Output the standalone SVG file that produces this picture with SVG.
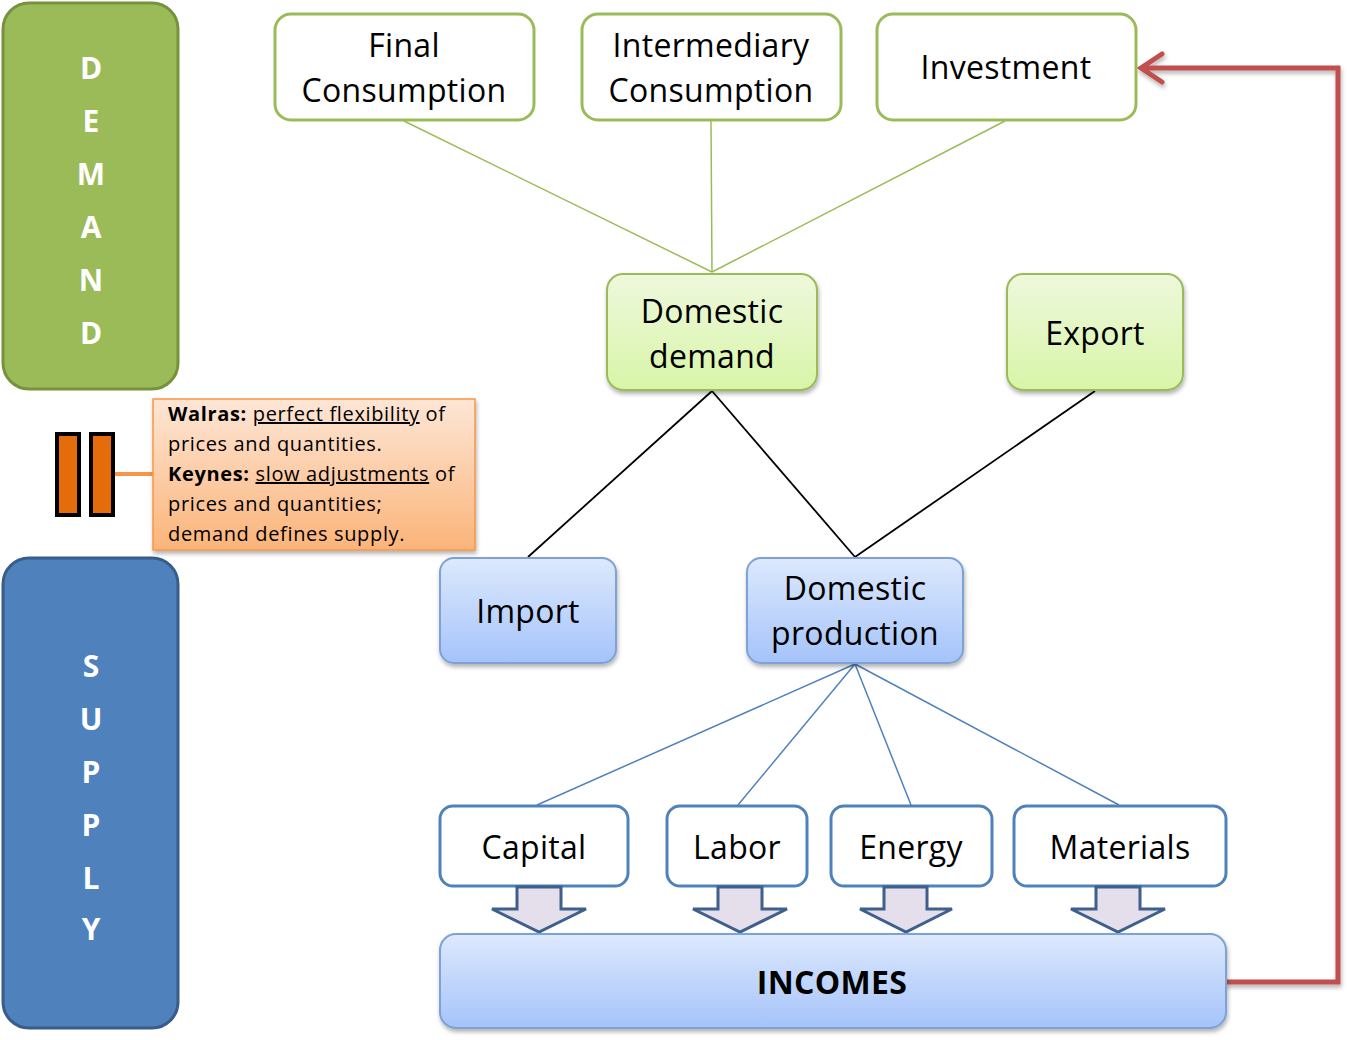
<svg xmlns="http://www.w3.org/2000/svg" width="1348" height="1040" viewBox="0 0 1348 1040">
<defs>
<linearGradient id="gGreen" x1="0" y1="0" x2="0" y2="1"><stop offset="0" stop-color="#eef8dc"/><stop offset="1" stop-color="#d8f5a8"/></linearGradient>
<linearGradient id="gBlue" x1="0" y1="0" x2="0" y2="1"><stop offset="0" stop-color="#dde9fd"/><stop offset="1" stop-color="#a5c3fa"/></linearGradient>
<linearGradient id="gOrange" x1="0" y1="0" x2="0" y2="1"><stop offset="0" stop-color="#fde6d6"/><stop offset="1" stop-color="#fbb479"/></linearGradient>
<filter id="sh" x="-10%" y="-10%" width="130%" height="130%"><feDropShadow dx="1" dy="3" stdDeviation="2" flood-color="#000" flood-opacity="0.3"/></filter>
</defs>
<style>
text{font-family:"Open Sans","Liberation Sans",sans-serif;fill:#000}
.lbl{font-size:32px;text-anchor:middle;letter-spacing:0.3px}
.side{font-size:30px;font-weight:bold;fill:#fff;text-anchor:middle}
.wbox{fill:#fff;stroke:#9bbb59;stroke-width:3}
.bbox{fill:#fff;stroke:#4f81bd;stroke-width:3}
.gn{fill:url(#gGreen);stroke:#9bbb59;stroke-width:2;filter:url(#sh)}
.bn{fill:url(#gBlue);stroke:#7ba2d6;stroke-width:2;filter:url(#sh)}
.barrow{fill:#e5dfec;stroke:#3f5f8c;stroke-width:3;stroke-linejoin:miter}
.note{font-size:20px;letter-spacing:0.65px}
</style>
<g id="demand">
<rect x="3" y="3" width="175" height="386" rx="26" fill="#9bbb59" stroke="#76923c" stroke-width="3"/>
<text class="side" x="91" y="79">D</text><text class="side" x="91" y="132">E</text><text class="side" x="91" y="185">M</text><text class="side" x="91" y="238">A</text><text class="side" x="91" y="291">N</text><text class="side" x="91" y="344">D</text>
</g>
<g id="supply">
<rect x="3" y="558" width="175" height="470" rx="26" fill="#4f81bd" stroke="#385d8a" stroke-width="3"/>
<text class="side" x="91" y="677">S</text><text class="side" x="91" y="730">U</text><text class="side" x="91" y="783">P</text><text class="side" x="91" y="836">P</text><text class="side" x="91" y="889">L</text><text class="side" x="91" y="940">Y</text>
</g>
<g id="connectors" fill="none">
<g stroke="#9bbb59" stroke-width="1.5"><line x1="404" y1="121" x2="712" y2="272"/><line x1="711" y1="121" x2="712" y2="272"/><line x1="1005" y1="121" x2="712" y2="272"/></g>
<g stroke="#000" stroke-width="1.8"><line x1="712" y1="391" x2="528" y2="557"/><line x1="712" y1="391" x2="855" y2="557"/><line x1="1095" y1="391" x2="855" y2="557"/></g>
<g stroke="#4f81bd" stroke-width="1.5"><line x1="855" y1="664" x2="537" y2="805"/><line x1="855" y1="664" x2="738" y2="805"/><line x1="855" y1="664" x2="911" y2="805"/><line x1="855" y1="664" x2="1119" y2="805"/></g>
<line x1="113" y1="474" x2="153" y2="474" stroke="#f79646" stroke-width="4"/>
<g stroke="#c0504d" stroke-width="5" stroke-linecap="round" stroke-linejoin="miter" filter="url(#sh)"><polyline points="1227,982 1338,982 1338,68 1142,68"/><polyline points="1162,54 1141,68 1162,82"/></g>
</g>
<g id="final-consumption"><rect class="wbox" x="275" y="14" width="259" height="106" rx="16"/><text class="lbl" x="404" y="57">Final</text><text class="lbl" x="404" y="102">Consumption</text></g>
<g id="intermediary-consumption"><rect class="wbox" x="582" y="14" width="259" height="106" rx="16"/><text class="lbl" x="711" y="57">Intermediary</text><text class="lbl" x="711" y="102">Consumption</text></g>
<g id="investment"><rect class="wbox" x="877" y="14" width="259" height="106" rx="16"/><text class="lbl" x="1006" y="79">Investment</text></g>
<g id="domestic-demand"><rect class="gn" x="607" y="274" width="210" height="116" rx="16"/><text class="lbl" x="712" y="323">Domestic</text><text class="lbl" x="712" y="368">demand</text></g>
<g id="export"><rect class="gn" x="1007" y="274" width="176" height="116" rx="16"/><text class="lbl" x="1095" y="345">Export</text></g>
<g id="import"><rect class="bn" x="440" y="558" width="176" height="105" rx="14"/><text class="lbl" x="528" y="623">Import</text></g>
<g id="domestic-production"><rect class="bn" x="747" y="558" width="216" height="105" rx="14"/><text class="lbl" x="855" y="600">Domestic</text><text class="lbl" x="855" y="645">production</text></g>
<g id="capital"><rect class="bbox" x="440" y="806" width="188" height="80" rx="13"/><text class="lbl" x="534" y="859">Capital</text></g>
<g id="labor"><rect class="bbox" x="667" y="806" width="140" height="80" rx="13"/><text class="lbl" x="737" y="859">Labor</text></g>
<g id="energy"><rect class="bbox" x="831" y="806" width="161" height="80" rx="13"/><text class="lbl" x="911" y="859">Energy</text></g>
<g id="materials"><rect class="bbox" x="1014" y="806" width="212" height="80" rx="13"/><text class="lbl" x="1120" y="859">Materials</text></g>
<g id="arrows-to-incomes">
<polygon class="barrow" points="517,887 561,887 561,909 586,909 539,932 492,909 517,909"/>
<polygon class="barrow" points="718,887 762,887 762,909 787,909 740,932 693,909 718,909"/>
<polygon class="barrow" points="884,887 927,887 927,909 952,909 906,932 860,909 884,909"/>
<polygon class="barrow" points="1096,887 1140,887 1140,909 1165,909 1118,932 1071,909 1096,909"/>
</g>
<g id="incomes"><rect class="bn" x="440" y="934" width="786" height="94" rx="16"/><text class="lbl" x="832" y="994" font-weight="bold" letter-spacing="0">INCOMES</text></g>
<g id="equals">
<rect x="57" y="434" width="22" height="81" fill="#e46c0a" stroke="#000" stroke-width="4"/>
<rect x="91" y="434" width="22" height="81" fill="#e46c0a" stroke="#000" stroke-width="4"/>
</g>
<g id="note">
<rect x="153" y="399" width="322" height="151" fill="url(#gOrange)" stroke="#f79646" stroke-width="1.5" filter="url(#sh)"/>
<text class="note" x="168" y="421"><tspan font-weight="bold">Walras:</tspan> <tspan text-decoration="underline">perfect flexibility</tspan> of</text>
<text class="note" x="168" y="451">prices and quantities.</text>
<text class="note" x="168" y="481"><tspan font-weight="bold">Keynes:</tspan> <tspan text-decoration="underline">slow adjustments</tspan> of</text>
<text class="note" x="168" y="511">prices and quantities;</text>
<text class="note" x="168" y="541">demand defines supply.</text>
</g>
</svg>
